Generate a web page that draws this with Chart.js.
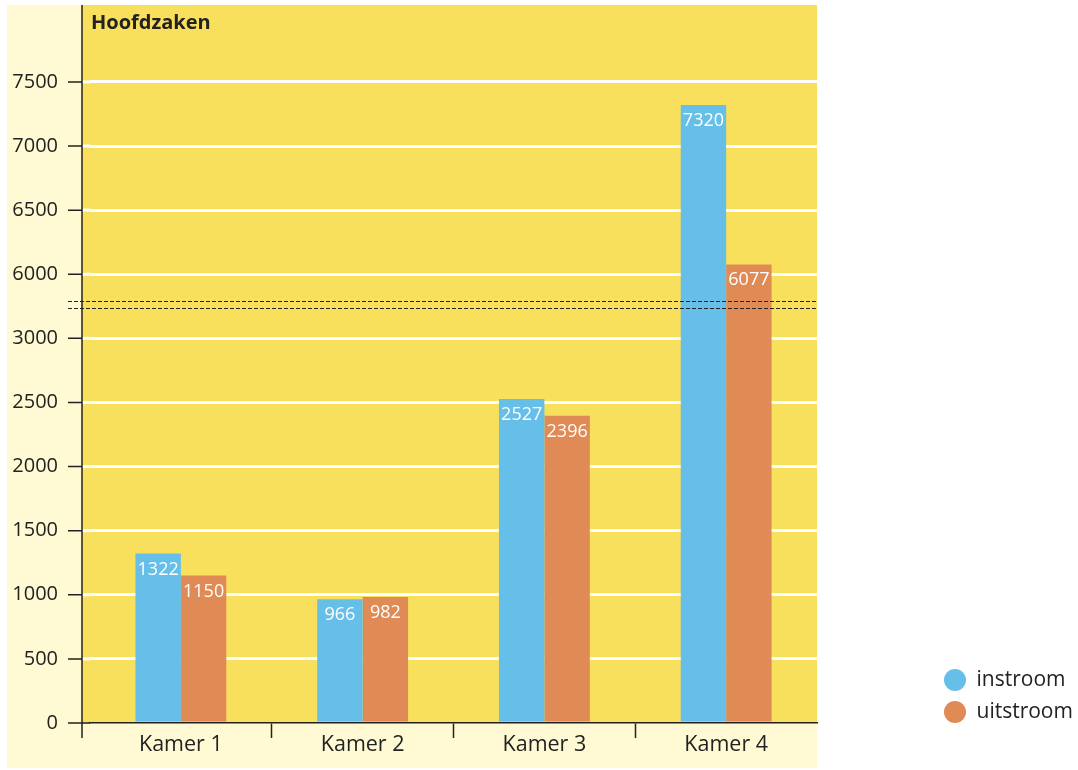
<!DOCTYPE html>
<html>
<head>
<meta charset="utf-8">
<script src="https://cdn.jsdelivr.net/npm/chart.js@4.4.0/dist/chart.umd.min.js"></script>
<style>
html, body { margin: 0; padding: 0; background: #fff; }
</style>
</head>
<body>
<canvas id="chart" width="1078" height="770"></canvas>
<script>
const categories = ['Kamer 1', 'Kamer 2', 'Kamer 3', 'Kamer 4'];
const instroom = [1322, 966, 2527, 7320];
const uitstroom = [1150, 982, 2396, 6077];
const tickValues = [0, 500, 1000, 1500, 2000, 2500, 3000, 6000, 6500, 7000, 7500];
const chartTitle = 'Hoofdzaken';

// broken axis: the part 3000..6000 is cut out, 6000 sits one step above 3000
const BREAK_LOW = 3000;
const BREAK_HIGH = 6000;
const SHIFT = BREAK_HIGH - BREAK_LOW - 500;
const toAxis = v => v <= BREAK_LOW ? v : v - SHIFT;
const fromAxis = v => v <= BREAK_LOW ? v : v + SHIFT;

const FONT = '"Open Sans", "Liberation Sans", sans-serif';
const INK = '#222';
const AXIS_X = 82;   // the drawn y axis line sits a bit left of the category area

const backgrounds = {
    id: 'backgrounds',
    beforeDraw(chart) {
        const { ctx, chartArea } = chart;
        ctx.save();
        ctx.fillStyle = '#fffad3';
        ctx.fillRect(7, 5, chartArea.right - 7, 763);
        ctx.fillStyle = '#f9e05c';
        ctx.fillRect(AXIS_X, chartArea.top, chartArea.right - AXIS_X, chartArea.bottom - chartArea.top);
        ctx.restore();
    },
    beforeDatasetsDraw(chart) {
        // white grid lines continued to the axis line
        const { ctx, chartArea } = chart;
        const y = chart.scales.y;
        ctx.save();
        ctx.strokeStyle = '#fff';
        ctx.lineWidth = 3;
        y.ticks.forEach(t => {
            if (t.value === 0) return;
            const py = y.getPixelForValue(t.value);
            ctx.beginPath();
            ctx.moveTo(AXIS_X, py);
            ctx.lineTo(chartArea.left + 1, py);
            ctx.stroke();
        });
        ctx.restore();
    }
};

const extras = {
    id: 'extras',
    afterLayout(chart) {
        const lg = chart.legend;
        const dx = 933 - lg.left;
        lg.left += dx; lg.right += dx;
        const dy = 733.5 - lg.bottom;
        lg.top += dy; lg.bottom += dy;
    },
    afterDatasetsDraw(chart) {
        const { ctx, chartArea } = chart;
        const y = chart.scales.y;
        ctx.save();
        // axis lines and tick marks
        ctx.strokeStyle = INK;
        ctx.lineWidth = 1.5;
        ctx.beginPath();
        ctx.moveTo(AXIS_X, chartArea.top);
        ctx.lineTo(AXIS_X, chartArea.bottom + 15);
        ctx.moveTo(AXIS_X, chartArea.bottom);
        ctx.lineTo(chartArea.left, chartArea.bottom);
        y.ticks.forEach(t => {
            const py = y.getPixelForValue(t.value);
            ctx.moveTo(AXIS_X - 14, py);
            ctx.lineTo(AXIS_X, py);
        });
        ctx.stroke();
        // break marks
        ctx.lineWidth = 1;
        ctx.setLineDash([4, 2]);
        [3240, 3290].forEach(v => {
            const py = Math.round(y.getPixelForValue(v)) + 0.5;
            ctx.beginPath();
            ctx.moveTo(AXIS_X - 14, py);
            ctx.lineTo(chartArea.right, py);
            ctx.stroke();
        });
        ctx.setLineDash([]);
        // values on bars
        ctx.fillStyle = '#fff';
        ctx.font = '18px ' + FONT;
        ctx.textAlign = 'center';
        ctx.textBaseline = 'alphabetic';
        const raw = [instroom, uitstroom];
        chart.data.datasets.forEach((ds, i) => {
            chart.getDatasetMeta(i).data.forEach((bar, j) => {
                ctx.fillText(String(raw[i][j]), bar.x, bar.y + 21);
            });
        });
        // title inside the plot
        ctx.fillStyle = INK;
        ctx.font = 'bold 20px ' + FONT;
        ctx.textAlign = 'left';
        ctx.fillText(chartTitle, 91, 29);
        ctx.restore();
    }
};

new Chart(document.getElementById('chart'), {
    type: 'bar',
    data: {
        labels: categories,
        datasets: [{
            label: 'instroom',
            data: instroom.map(toAxis),
            backgroundColor: '#66bfe8',
            borderWidth: 0
        }, {
            label: 'uitstroom',
            data: uitstroom.map(toAxis),
            backgroundColor: '#e08a56',
            borderWidth: 0
        }]
    },
    options: {
        responsive: false,
        animation: false,
        layout: { padding: { top: 5, left: 0, right: 0, bottom: 0 } },
        datasets: {
            bar: { categoryPercentage: 0.5, barPercentage: 1 }
        },
        scales: {
            x: {
                grid: {
                    offset: true,
                    drawOnChartArea: false,
                    tickLength: 15,
                    tickWidth: 1.5,
                    tickColor: ctx => (ctx.index === undefined || ctx.index === 0 || ctx.index >= categories.length) ? 'rgba(0,0,0,0)' : INK
                },
                border: { color: INK, width: 1.5 },
                ticks: { color: INK, font: { family: FONT, size: 21.5 }, padding: -6 },
                afterFit(scale) { scale.height = 47; }
            },
            y: {
                min: 0,
                max: 5600,
                afterBuildTicks(scale) {
                    scale.ticks = tickValues.map(v => ({ value: toAxis(v) }));
                },
                grid: {
                    color: ctx => ctx.tick && ctx.tick.value === 0 ? 'rgba(0,0,0,0)' : '#ffffff',
                    lineWidth: 3,
                    drawTicks: false
                },
                border: { display: false },
                ticks: {
                    color: INK,
                    font: { family: FONT, size: 20 },
                    padding: 32,
                    callback: value => String(fromAxis(value))
                },
                afterFit(scale) {
                    scale.width = 90;
                    scale.paddingTop = 0;
                    scale.paddingBottom = 0;
                }
            },
            spacer: {
                type: 'linear',
                position: 'right',
                grid: { display: false },
                border: { display: false },
                ticks: { display: false },
                afterFit(scale) { scale.width = 111; }
            }
        },
        plugins: {
            tooltip: { enabled: false },
            legend: {
                position: 'right',
                align: 'end',
                labels: {
                    usePointStyle: true,
                    pointStyle: 'circle',
                    pointStyleWidth: 22,
                    boxHeight: 15.5,
                    padding: 11,
                    color: INK,
                    font: { family: FONT, size: 21 }
                }
            }
        }
    },
    plugins: [backgrounds, extras]
});
</script>
</body>
</html>
